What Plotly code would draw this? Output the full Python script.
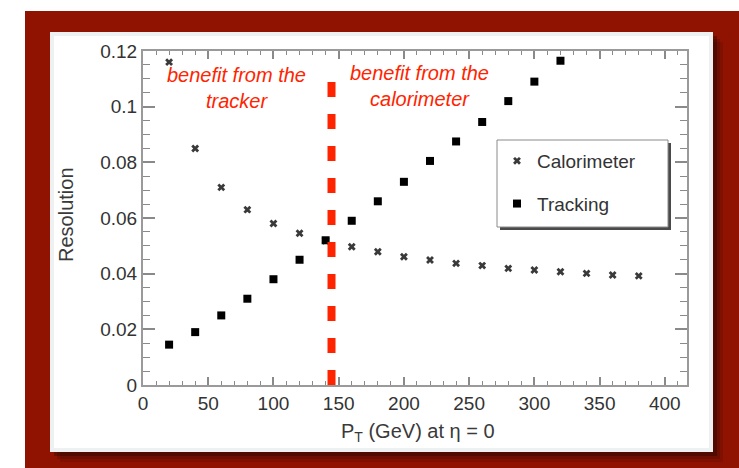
import plotly.graph_objects as go

# Transverse momentum points (GeV) and resolution values for each detector
pt_calorimeter = [20, 40, 60, 80, 100, 120, 140, 160, 180, 200, 220, 240,
                  260, 280, 300, 320, 340, 360, 380]
res_calorimeter = [0.116, 0.085, 0.071, 0.063, 0.058, 0.0545, 0.0518, 0.0497,
                   0.0479, 0.0461, 0.0449, 0.0437, 0.0429, 0.0419, 0.0413,
                   0.0407, 0.0401, 0.0395, 0.0392]

pt_tracking = [20, 40, 60, 80, 100, 120, 140, 160, 180, 200, 220, 240, 260,
               280, 300, 320]
res_tracking = [0.0145, 0.019, 0.025, 0.031, 0.038, 0.045, 0.052, 0.059,
                0.066, 0.073, 0.0805, 0.0875, 0.0945, 0.102, 0.109, 0.1165]

# Crossover point between the two regimes
crossover_pt = 144.5
crossover_top = 0.109

x_tick_vals = [0, 50, 100, 150, 200, 250, 300, 350, 400]
x_tick_text = ["0", "50", "100", "150", "200", "250", "300", "350", "400"]
y_tick_vals = [0, 0.02, 0.04, 0.06, 0.08, 0.1, 0.12]
y_tick_text = ["0", "0.02", "0.04", "0.06", "0.08", "0.1", "0.12"]

W, H = 739, 468
L, R, T, B = 143, 52, 51, 83
PW, PH = W - L - R, H - T - B


def px(x):
    return (x - L) / PW


def py(y):
    return (H - B - y) / PH


RED_BG = "#8f1300"
RED_TXT = "#ff2400"
FONT = "Liberation Sans"

fig = go.Figure()
fig.add_trace(go.Scatter(
    x=pt_calorimeter, y=res_calorimeter, mode="markers", name="Calorimeter",
    legendgroup="cal",
    marker=dict(symbol="x", size=7, color="#3a3a3a", line=dict(width=0)),
))
fig.add_trace(go.Scatter(
    x=pt_tracking, y=res_tracking, mode="markers", name="Tracking",
    legendgroup="trk",
    marker=dict(symbol="square", size=8, color="#000000", line=dict(width=0)),
))

shapes = []
# dark red background
shapes.append(dict(type="rect", xref="paper", yref="paper", layer="below",
                   x0=px(25), x1=px(739), y0=py(468), y1=py(11),
                   fillcolor=RED_BG, line=dict(width=0)))
# panel drop shadow
for off, op in [(10, 0.10), (7, 0.15), (4, 0.25)]:
    shapes.append(dict(type="rect", xref="paper", yref="paper", layer="below",
                       x0=px(50 + off), x1=px(713 + off),
                       y0=py(452 + off), y1=py(32 + off),
                       fillcolor=f"rgba(0,0,0,{op})", line=dict(width=0)))
# white panel with light edge
shapes.append(dict(type="rect", xref="paper", yref="paper", layer="below",
                   x0=px(50), x1=px(713), y0=py(452), y1=py(32),
                   fillcolor="#edf1f1", line=dict(width=0)))
shapes.append(dict(type="rect", xref="paper", yref="paper", layer="below",
                   x0=px(54), x1=px(709), y0=py(448), y1=py(36),
                   fillcolor="#ffffff", line=dict(width=0)))
# legend box with its shadow
shapes.append(dict(type="rect", xref="paper", yref="paper", layer="above",
                   x0=px(500), x1=px(671), y0=py(230), y1=py(143),
                   fillcolor="#4a4a4a", line=dict(width=0)))
shapes.append(dict(type="rect", xref="paper", yref="paper", layer="above",
                   x0=px(497), x1=px(668), y0=py(227), y1=py(140),
                   fillcolor="#ffffff", line=dict(color="#8a8a8a", width=1)))
# crossover marker line
shapes.append(dict(type="line", xref="x", yref="y", layer="above",
                   x0=crossover_pt, x1=crossover_pt, y0=0, y1=crossover_top,
                   line=dict(color=RED_TXT, width=8, dash="15px,17px")))

annotations = [
    dict(text="<i>benefit from the<br>tracker</i>", x=72, y=0.1068,
         xref="x", yref="y", showarrow=False,
         font=dict(family=FONT, size=20, color=RED_TXT),
         xanchor="center", yanchor="middle"),
    dict(text="<i>benefit from the<br>calorimeter</i>", x=212, y=0.1075,
         xref="x", yref="y", showarrow=False,
         font=dict(family=FONT, size=20, color=RED_TXT),
         xanchor="center", yanchor="middle"),
    dict(text="P<sub>T</sub> (GeV) at η = 0", x=px(418), y=py(432),
         xref="paper", yref="paper", showarrow=False,
         font=dict(family=FONT, size=20, color="#3a3a3a"),
         xanchor="center", yanchor="middle"),
    dict(text="Resolution", x=px(66), y=py(215), xref="paper", yref="paper",
         showarrow=False, textangle=-90,
         font=dict(family=FONT, size=20, color="#3a3a3a"),
         xanchor="center", yanchor="middle"),
]

axis_common = dict(
    showline=True, linecolor="#9a9a9a", linewidth=2, mirror="allticks",
    ticks="inside", tickcolor="#8a8a8a", tickwidth=2,
    showgrid=False, zeroline=False, tickmode="array",
    tickfont=dict(family=FONT, size=19, color="#333333"),
)

fig.update_layout(
    width=W, height=H,
    margin=dict(l=L, r=R, t=T, b=B),
    paper_bgcolor="#ffffff", plot_bgcolor="rgba(0,0,0,0)",
    shapes=shapes, annotations=annotations,
    showlegend=True,
    legend=dict(x=px(497), y=py(142), xanchor="left", yanchor="top",
                bgcolor="rgba(0,0,0,0)", borderwidth=0,
                tracegroupgap=15,
                font=dict(family=FONT, size=19, color="#333333")),
    xaxis=dict(range=[0, 417], tickvals=x_tick_vals, ticktext=x_tick_text,
               ticklen=8,
               minor=dict(tickmode="linear", tick0=0, dtick=10, ticklen=4,
                          ticks="inside", tickcolor="#8a8a8a", tickwidth=1),
               **axis_common),
    yaxis=dict(range=[0, 0.12], tickvals=y_tick_vals, ticktext=y_tick_text,
               ticklen=12,
               minor=dict(tickmode="linear", tick0=0, dtick=0.005, ticklen=7,
                          ticks="inside", tickcolor="#8a8a8a", tickwidth=1),
               **axis_common),
)

fig.write_html("out.html")
